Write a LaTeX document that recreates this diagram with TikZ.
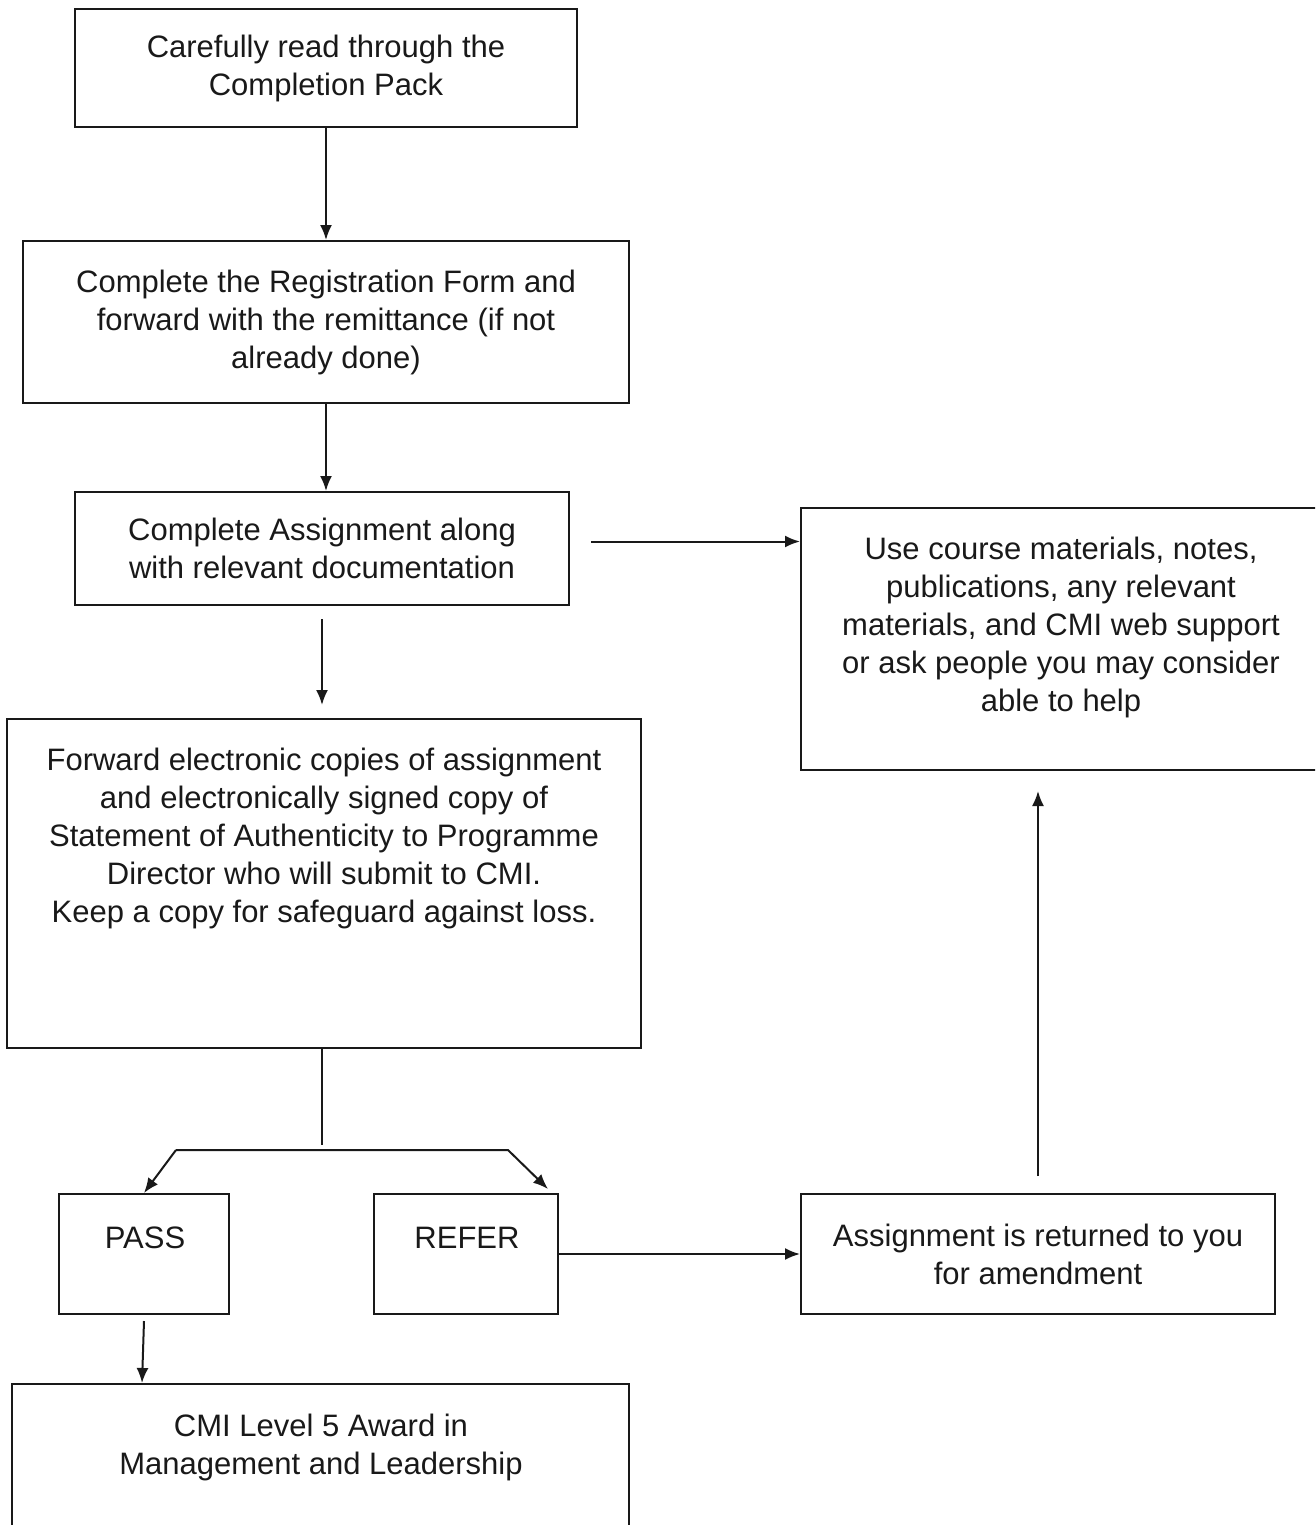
\documentclass[tikz,border=0pt]{standalone}
\usepackage{fontspec}
\setmainfont{Liberation Sans}
\usetikzlibrary{arrows.meta}

\begin{document}
\begin{tikzpicture}[x=1pt,y=-1pt,
  box/.style={draw=black!90,line width=2pt,align=center,inner sep=0pt},
  txt/.style={align=center,inner sep=0pt,text=black!90},
  arr/.style={draw=black!90,line width=2pt,-{Latex[length=15pt,width=12pt]}},
  every node/.style={font=\fontsize{31}{38}\selectfont,text=black!90}]
\useasboundingbox (0,0) rectangle (1315,1525);
\clip (0,0) rectangle (1315,1525);
\node[box,minimum width=502pt,minimum height=118pt] (read) at (326,68)
  {Carefully read through the\\Completion Pack};
\node[box,minimum width=606pt,minimum height=162pt] (reg) at (326,322)
  {Complete the Registration Form and\\forward with the remittance (if not\\already done)};
\node[box,minimum width=494pt,minimum height=113pt] (assign) at (322,548.5)
  {Complete Assignment along\\with relevant documentation};
\node[box,minimum width=520pt,minimum height=262pt] (use) at (1061,639) {};
\node[txt] (usetxt) at (1061,627)
  {Use course materials, notes,\\publications, any relevant\\materials, and CMI web support\\or ask people you may consider\\able to help};
\node[box,minimum width=634pt,minimum height=329pt] (fwd) at (324,883.5) {};
\node[txt] (fwdtxt) at (324,838)
  {Forward electronic copies of assignment\\and electronically signed copy of\\Statement of Authenticity to Programme\\Director who will submit to CMI.\\Keep a copy for safeguard against loss.};
%
\node[box,minimum width=170pt,minimum height=120pt] (pass) at (144,1254) {};
\node[txt] (passtxt) at (145,1238) {PASS};
\node[box,minimum width=184pt,minimum height=120pt] (refer) at (466,1254) {};
\node[txt] (refertxt) at (467,1238) {REFER};
\node[box,minimum width=474pt,minimum height=120pt] (back) at (1038,1254)
  {Assignment is returned to you\\for amendment};
\node[box,minimum width=617pt,minimum height=300pt] (award) at (320.5,1534) {};
\node[txt] (awardtxt) at (321,1447)
  {CMI Level 5 Award in\\Management and Leadership};
%
\coordinate (join) at (322,1145);
\coordinate (splitl) at (176,1150);
\coordinate (splitr) at (508,1150);
\draw[arr] (read) -- (reg);
\draw[arr] (reg.south) -- (reg.south |- assign.north);
\draw[arr] ([xshift=21pt,yshift=7pt]assign.east) -- ([yshift=7pt]assign.east -| use.west);
\draw[arr] ([yshift=-13pt]assign.south) -- ([yshift=13pt]assign.south |- fwd.north);
\draw[draw=black!90,line width=2pt] (join |- fwd.south) -- (join);
\draw[arr] (splitl) -- (pass.north);
\draw[arr] (splitl) -- (splitr) -- ([xshift=-11pt,yshift=4pt]refer.north east);
\draw[arr] (refer.east) -- (back.west);
\draw[arr] ([yshift=17pt]back.north) -- ([yshift=-20pt]back.north |- use.south);
\draw[arr] ([yshift=-6pt]pass.south) -- ([xshift=-2pt]pass.south |- award.north);
\end{tikzpicture}
\end{document}
